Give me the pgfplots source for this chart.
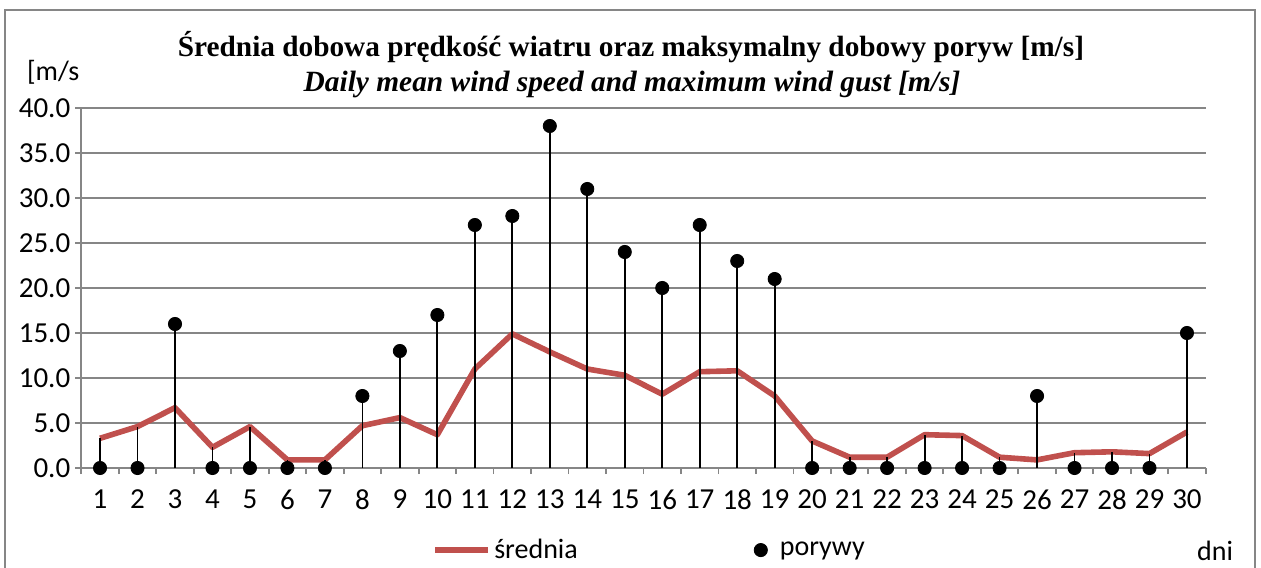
\documentclass[border=0pt]{standalone}
\usepackage{pgfplots}
\pgfplotsset{compat=1.18}
\usepackage{pgfplotstable}
\usepackage{fontspec}
\setmainfont{Carlito}
\newfontfamily\titlefont{Liberation Serif}
\definecolor{exred}{HTML}{C0504D}
\definecolor{gridgray}{HTML}{868686}
\pgfplotstableread{
day mean gust top
1 3.3 0 3.3
2 4.6 0 4.6
3 6.7 16 16
4 2.3 0 2.3
5 4.6 0 4.6
6 0.9 0 0.9
7 0.9 0 0.9
8 4.7 8 8
9 5.6 13 13
10 3.7 17 17
11 11.0 27 27
12 14.9 28 28
13 12.9 38 38
14 11.0 31 31
15 10.3 24 24
16 8.2 20 20
17 10.7 27 27
18 10.8 23 23
19 8.0 21 21
20 3.0 0 3.0
21 1.2 0 1.2
22 1.2 0 1.2
23 3.7 0 3.7
24 3.6 0 3.6
25 1.2 0 1.2
26 0.9 8 8
27 1.7 0 1.7
28 1.8 0 1.8
29 1.6 0 1.6
30 4.0 15 15
}\wind
\begin{document}
\begin{tikzpicture}
\path[use as bounding box] (0,0) rectangle (630.5pt,283.5pt);
\clip (0,0) rectangle (630.5pt,283.5pt);
\draw[gridgray, line width=0.8pt] (2.5pt,-20pt) rectangle (627.5pt,278.5pt);
\node[font=\titlefont\bfseries\fontsize{14.65}{14.65}\selectfont] at (315.5pt,260pt) {Średnia dobowa prędkość wiatru oraz maksymalny dobowy poryw [m/s]};
\node[font=\titlefont\bfseries\itshape\fontsize{14.7}{14.7}\selectfont] at (316pt,241.5pt) {Daily mean wind speed and maximum wind gust [m/s]};
\node[font=\fontsize{14}{14}\selectfont, anchor=west] at (10pt,247.5pt) {[m/s};
\node[font=\fontsize{14}{14}\selectfont, anchor=east] at (620pt,8pt) {dni};
\begin{axis}[
  at={(40.65pt,49.5pt)}, anchor=south west,
  scale only axis, width=562.2pt, height=180pt,
  xmin=0.5, xmax=30.5, ymin=0, ymax=40,
  axis x line=bottom, axis y line=left,
  axis line style={gridgray, line width=0.9pt, -},
  xtick={1,...,30},
  minor xtick={0.5,1.5,...,30.5},
  major x tick style={draw=none},
  minor x tick style={gridgray, line width=0.9pt},
  minor tick length=3pt,
  ytick={0,5,...,40},
  major y tick style={gridgray, line width=0.9pt},
  major tick length=3pt,
  tick align=outside,
  ymajorgrids,
  grid style={gridgray, line width=0.9pt},
  yticklabel={\pgfmathprintnumber[fixed,fixed zerofill,precision=1]{\tick}},
  /pgf/number format/assume math mode=true,
  tick label style={font=\fontsize{14.5}{14.5}\selectfont},
  yticklabel style={xshift=1pt},
  xticklabel style={yshift=-4.5pt},
  legend style={at={(0.506,-0.228)}, anchor=center, draw=none, fill=none,
     legend columns=2, font=\fontsize{14}{14}\selectfont,
     nodes={inner xsep=1.5pt},
     /tikz/every even column/.append style={column sep=84pt}},
  legend cell align=left,
  clip=false,
]
\addplot[exred, line width=2.8pt, line join=round,
  legend image code/.code={\draw[exred, line width=2.8pt] (0pt,0pt) -- (26.5pt,0pt);}]
  table[x=day,y=mean]{\wind};
\addlegendentry{średnia}
\addplot[ycomb, black, line width=0.9pt, forget plot] table[x=day,y=top]{\wind};
\addplot[only marks, mark=*, mark size=3.3pt, black,
  legend image code/.code={\path[draw=none,fill=none] (0pt,0pt) rectangle (14pt,0.1pt); \fill[black] (6pt,0pt) circle (3.3pt);}]
  table[x=day,y=gust]{\wind};
\addlegendentry{porywy}
\end{axis}
\end{tikzpicture}
\end{document}
